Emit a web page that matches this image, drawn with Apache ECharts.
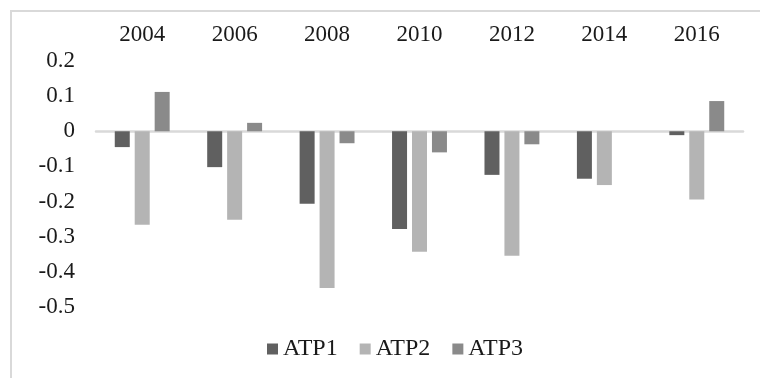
<!DOCTYPE html>
<html>
<head>
<meta charset="utf-8">
<title>ATP</title>
<script src="https://cdn.jsdelivr.net/npm/echarts@6/dist/echarts.min.js"></script>
<style>
  html, body { margin: 0; padding: 0; background: #ffffff; }
  #chart { width: 760px; height: 378px; }
</style>
</head>
<body>
<div id="chart"></div>
<script>
// Years shown along the top of the plot
const years = ['2004', '2006', '2008', '2010', '2012', '2014', '2016'];

// Values per series, one per year
const atp1 = [-0.045, -0.102, -0.206, -0.278, -0.124, -0.135, -0.011];
const atp2 = [-0.266, -0.252, -0.446, -0.343, -0.354, -0.153, -0.194];
const atp3 = [0.112, 0.024, -0.034, -0.060, -0.037, 0, 0.086];

// Value axis range and step
const yMin = -0.5;
const yMax = 0.2;
const yStep = 0.1;

const seriesNames = ['ATP1', 'ATP2', 'ATP3'];
const seriesColors = ['#606060', '#b4b4b4', '#8a8a8a'];
const seriesData = [atp1, atp2, atp3];

const textFont = { fontFamily: '"Liberation Serif", "Times New Roman", serif', fontSize: 23, color: '#1a1a1a' };

const chart = echarts.init(document.getElementById('chart'), null, { renderer: 'canvas' });

chart.setOption({
  animation: false,
  backgroundColor: '#ffffff',
  graphic: [{
    type: 'rect',
    shape: { x: 11, y: 11, width: 900, height: 500 },
    style: { fill: 'none', stroke: '#d9d9d9', lineWidth: 2 },
    silent: true,
    z: -1
  }],
  grid: { left: 96, right: 17, top: 61, bottom: 71, containLabel: false },
  legend: {
    data: seriesNames,
    left: 267,
    top: 337,
    padding: 0,
    itemWidth: 11,
    itemHeight: 11,
    itemGap: 22,
    icon: 'rect',
    textStyle: Object.assign({}, textFont, { fontSize: 24 })
  },
  xAxis: [{
    type: 'category',
    data: years,
    position: 'bottom',
    axisLine: { onZero: true, lineStyle: { color: '#d9d9d9', width: 2.5 } },
    axisTick: { show: false },
    axisLabel: { show: false },
    splitLine: { show: false }
  }, {
    type: 'category',
    data: years,
    position: 'top',
    axisLine: { show: false },
    axisTick: { show: false },
    axisLabel: Object.assign({ margin: 15 }, textFont),
    splitLine: { show: false }
  }],
  yAxis: {
    type: 'value',
    min: yMin,
    max: yMax,
    interval: yStep,
    axisLine: { show: false },
    axisTick: { show: false },
    splitLine: { show: false },
    axisLabel: Object.assign({
      margin: 21,
      formatter: function (v) {
        const r = Math.round(v * 10) / 10;
        return r === 0 ? '0' : String(r);
      }
    }, textFont)
  },
  series: seriesNames.map(function (name, i) {
    return {
      name: name,
      type: 'bar',
      xAxisIndex: 0,
      data: seriesData[i],
      barWidth: 15,
      barGap: '33%',
      itemStyle: { color: seriesColors[i] }
    };
  })
});
</script>
</body>
</html>
